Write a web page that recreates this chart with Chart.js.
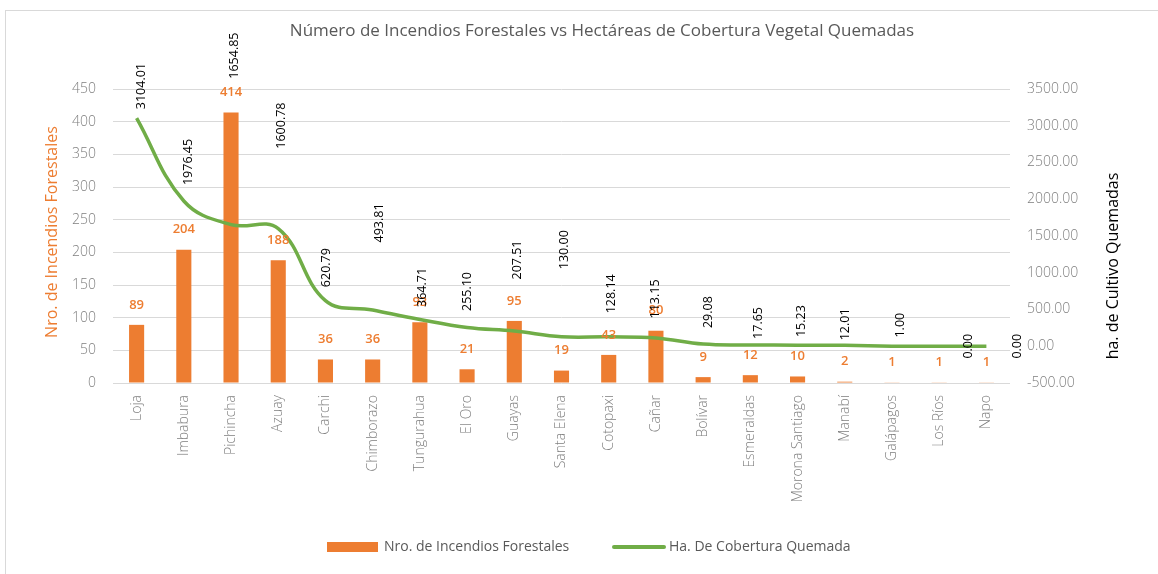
<!DOCTYPE html>
<html>
<head>
<meta charset="utf-8">
<script src="https://cdn.jsdelivr.net/npm/chart.js@4/dist/chart.umd.min.js"></script>
<style>
  html, body { margin: 0; padding: 0; background: #fff; }
  #wrap { width: 1158px; height: 574px; position: relative; }
</style>
</head>
<body>
<div id="wrap"><canvas id="chart" width="1158" height="574"></canvas></div>
<script>
const provincias = ['Loja', 'Imbabura', 'Pichincha', 'Azuay', 'Carchi', 'Chimborazo', 'Tungurahua',
  'El Oro', 'Guayas', 'Santa Elena', 'Cotopaxi', 'Cañar', 'Bolívar', 'Esmeraldas',
  'Morona Santiago', 'Manabí', 'Galápagos', 'Los Ríos', 'Napo'];
const incendios = [89, 204, 414, 188, 36, 36, 93, 21, 95, 19, 43, 80, 9, 12, 10, 2, 1, 1, 1];
const hectareas = [3104.01, 1976.45, 1654.85, 1600.78, 620.79, 493.81, 364.71, 255.10, 207.51,
  130.00, 128.14, 113.15, 29.08, 17.65, 15.23, 12.01, 1.00, 0.00, 0.00];

const leftMin = 0, leftMax = 450, leftStep = 50;
const rightMin = -500, rightMax = 3500, rightStep = 500;

const titulo = 'Número de Incendios Forestales vs Hectáreas de Cobertura Vegetal Quemadas';
const tituloIzq = 'Nro. de Incendios Forestales';
const tituloDer = 'ha. de Cultivo Quemadas';
const leyendaBarras = 'Nro. de Incendios Forestales';
const leyendaLinea = 'Ha. De Cobertura Quemada';

// the hectare labels were dragged around by hand in the original, so keep their shift (px)
const haLabelShift = [[5, -32], [5, -39], [3, -169], [3, -103], [1, -33], [7, -87], [3, -32],
  [0, -36], [3, -71], [3, -87], [3, -43], [0, -39], [5, -32], [8, -22], [4, -24], [1, -21],
  [8, -21], [29, 0], [31, 0]];

const NARANJA = '#ED7D31';
const VERDE = '#70AD47';
const FONT = "'Open Sans', 'Noto Sans', sans-serif";

const decor = {
  id: 'decor',
  beforeDraw(chart) {
    const ctx = chart.ctx;
    ctx.save();
    ctx.strokeStyle = '#d9d9d9';
    ctx.lineWidth = 1;
    ctx.strokeRect(5.5, 10.5, 1200, 700);
    ctx.restore();
  },
  afterDatasetsDraw(chart) {
    const ctx = chart.ctx;
    ctx.save();
    // bar labels
    const bars = chart.getDatasetMeta(0).data;
    ctx.fillStyle = NARANJA;
    ctx.font = '600 13px ' + FONT;
    ctx.textAlign = 'center';
    ctx.textBaseline = 'middle';
    bars.forEach((b, i) => {
      ctx.fillText(String(incendios[i]), b.x, b.y - 20);
    });
    // line labels, rotated
    const pts = chart.getDatasetMeta(1).data;
    ctx.fillStyle = '#000';
    ctx.font = '500 12.5px ' + FONT;
    pts.forEach((p, i) => {
      const s = haLabelShift[i];
      ctx.save();
      ctx.translate(p.x + s[0], p.y + s[1]);
      ctx.rotate(-Math.PI / 2);
      ctx.fillText(hectareas[i].toFixed(2), 0, 0);
      ctx.restore();
    });
    ctx.restore();
  },
  afterDraw(chart) {
    const ctx = chart.ctx;
    ctx.save();
    ctx.textBaseline = 'middle';
    ctx.textAlign = 'center';
    // title
    ctx.fillStyle = '#595959';
    ctx.font = '17px ' + FONT;
    ctx.fillText(titulo, 602, 31);
    // axis titles
    ctx.save();
    ctx.translate(52, 232);
    ctx.rotate(-Math.PI / 2);
    ctx.fillStyle = NARANJA;
    ctx.font = '16px ' + FONT;
    ctx.fillText(tituloIzq, 0, 0);
    ctx.restore();
    ctx.save();
    ctx.translate(1113, 266);
    ctx.rotate(-Math.PI / 2);
    ctx.fillStyle = '#000';
    ctx.font = '16px ' + FONT;
    ctx.fillText(tituloDer, 0, 0);
    ctx.restore();
    // legend
    ctx.textAlign = 'left';
    ctx.font = '14px ' + FONT;
    ctx.fillStyle = NARANJA;
    ctx.fillRect(327, 542, 51, 10);
    ctx.fillStyle = '#595959';
    ctx.fillText(leyendaBarras, 384, 547);
    ctx.strokeStyle = VERDE;
    ctx.lineWidth = 4;
    ctx.lineCap = 'round';
    ctx.beginPath();
    ctx.moveTo(614, 547);
    ctx.lineTo(664, 547);
    ctx.stroke();
    ctx.fillText(leyendaLinea, 669, 547);
    ctx.restore();
  }
};

new Chart(document.getElementById('chart'), {
  data: {
    labels: provincias,
    datasets: [
      {
        type: 'bar',
        label: leyendaBarras,
        data: incendios,
        backgroundColor: NARANJA,
        yAxisID: 'y',
        categoryPercentage: 1,
        barPercentage: 0.32,
        order: 2
      },
      {
        type: 'line',
        label: leyendaLinea,
        data: hectareas,
        borderColor: VERDE,
        borderWidth: 3.5,
        pointRadius: 0,
        tension: 0.4,
        fill: false,
        yAxisID: 'y1',
        order: 1
      }
    ]
  },
  options: {
    responsive: false,
    animation: false,
    layout: { padding: { top: 89, left: 0, right: 0, bottom: 0 } },
    plugins: {
      legend: { display: false },
      title: { display: false },
      tooltip: { enabled: false }
    },
    scales: {
      x: {
        grid: { display: false, drawTicks: false },
        border: { display: false },
        ticks: {
          color: '#7f7f7f',
          font: { family: FONT, size: 14, weight: '300' },
          minRotation: 90,
          maxRotation: 90,
          autoSkip: false,
          padding: 12
        },
        afterFit(scale) { scale.height = 191; }
      },
      y: {
        position: 'left',
        min: leftMin,
        max: leftMax,
        grid: { color: '#d9d9d9', lineWidth: 1, drawTicks: false },
        border: { display: false },
        ticks: {
          stepSize: leftStep,
          color: '#7f7f7f',
          font: { family: FONT, size: 14, weight: '300' },
          padding: 17
        },
        afterFit(scale) { scale.width = 113; }
      },
      y1: {
        position: 'right',
        min: rightMin,
        max: rightMax,
        grid: { display: false, drawTicks: false },
        border: { display: false },
        ticks: {
          stepSize: rightStep,
          color: '#7f7f7f',
          font: { family: FONT, size: 14, weight: '300' },
          padding: 17,
          callback: v => Number(v).toFixed(2)
        },
        afterFit(scale) { scale.width = 148; }
      }
    }
  },
  plugins: [decor]
});
</script>
</body>
</html>
